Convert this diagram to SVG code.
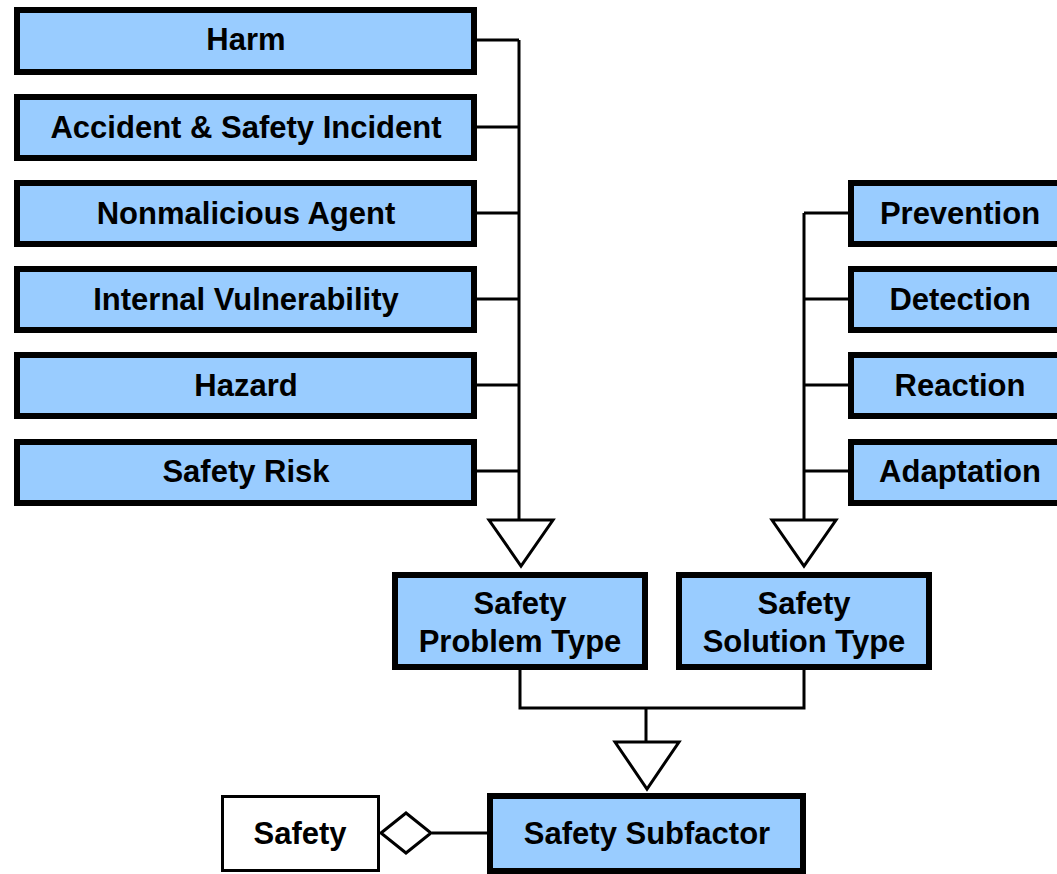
<svg xmlns="http://www.w3.org/2000/svg" width="1057" height="874" viewBox="0 0 1057 874">
<style>
.n{fill:#99CCFF;stroke:#000;stroke-width:6}
.w{fill:#fff;stroke:#000;stroke-width:3}
.t{font-family:"Liberation Sans",Arial,sans-serif;font-weight:bold;font-size:31px;text-anchor:middle;fill:#000}
.c{fill:none;stroke:#000;stroke-width:3}
.h{fill:#fff;stroke:#000;stroke-width:3;stroke-linejoin:miter}
</style>
<rect width="1057" height="874" fill="#fff"/>
<g id="connectors">
<path class="c" d="M477 40H519M477 127H519M477 213H519M477 299H519M477 385H519M477 471H519M519 40V520"/>
<polygon class="h" points="489,520 553,520 521,566"/>
<path class="c" d="M848 213H804M848 299H804M848 385H804M848 471H804M804 213V520"/>
<polygon class="h" points="772,520 836,520 804,566"/>
<path class="c" d="M520 670V708H804V670M646 708V742"/>
<polygon class="h" points="615,742 679,742 647,789"/>
<path class="c" d="M432 833H487"/>
<polygon class="h" points="381,833 406,813 431,833 406,853"/>
</g>
<g id="harm"><rect class="n" x="17" y="10" width="457" height="62"/><text class="t" x="246" y="50">Harm</text></g>
<g id="accident"><rect class="n" x="17" y="97" width="457" height="61"/><text class="t" x="246" y="138">Accident &amp; Safety Incident</text></g>
<g id="nonmalicious"><rect class="n" x="17" y="183" width="457" height="61"/><text class="t" x="246" y="224">Nonmalicious Agent</text></g>
<g id="internal"><rect class="n" x="17" y="269" width="457" height="61"/><text class="t" x="246" y="310">Internal Vulnerability</text></g>
<g id="hazard"><rect class="n" x="17" y="355" width="457" height="61"/><text class="t" x="246" y="396">Hazard</text></g>
<g id="risk"><rect class="n" x="17" y="442" width="457" height="61"/><text class="t" x="246" y="482">Safety Risk</text></g>
<g id="prevention"><rect class="n" x="851" y="183" width="222" height="61"/><text class="t" x="960" y="224">Prevention</text></g>
<g id="detection"><rect class="n" x="851" y="269" width="222" height="61"/><text class="t" x="960" y="310">Detection</text></g>
<g id="reaction"><rect class="n" x="851" y="355" width="222" height="61"/><text class="t" x="960" y="396">Reaction</text></g>
<g id="adaptation"><rect class="n" x="851" y="442" width="222" height="61"/><text class="t" x="960" y="482">Adaptation</text></g>
<g id="problem"><rect class="n" x="395" y="575" width="250" height="92"/><text class="t" x="520" y="614">Safety</text><text class="t" x="520" y="652">Problem Type</text></g>
<g id="solution"><rect class="n" x="679" y="575" width="250" height="92"/><text class="t" x="804" y="614">Safety</text><text class="t" x="804" y="652">Solution Type</text></g>
<g id="subfactor"><rect class="n" x="490" y="796" width="313" height="75"/><text class="t" x="647" y="844">Safety Subfactor</text></g>
<g id="safety"><rect class="w" x="222.5" y="796.5" width="156" height="74"/><text class="t" x="300" y="844">Safety</text></g>
</svg>
